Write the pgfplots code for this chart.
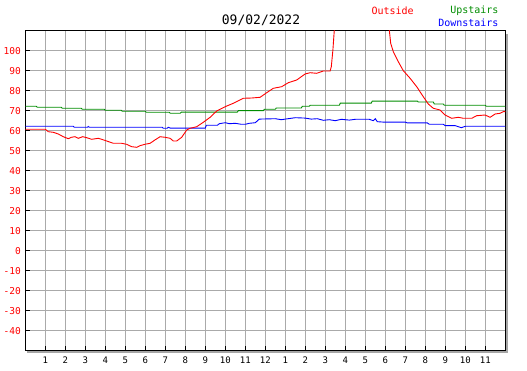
\documentclass[border=0pt]{standalone}
\usepackage{pgfplots}
\pgfplotsset{compat=1.18}
\usepackage{fontspec}
\setmainfont{DejaVu Sans Mono}
\definecolor{gridgray}{RGB}{170,170,170}
\definecolor{upgreen}{RGB}{0,140,0}
\begin{document}
\begin{tikzpicture}[x=1pt,y=1pt]
\path[use as bounding box] (0,0) rectangle (527,370);
% shadow
\draw[gray!70, line width=2pt] (27,18.0) -- (506.8,18.0) -- (506.8,336);
\begin{axis}[
  at={(25.3pt,19.3pt)}, anchor=south west,
  scale only axis, width=480pt, height=320pt,
  xmin=0, xmax=24, ymin=-50, ymax=110,
  xtick={1,...,23},
  xticklabels={1,2,3,4,5,6,7,8,9,10,11,12,1,2,3,4,5,6,7,8,9,10,11},
  ytick={-40,-30,-20,-10,0,10,20,30,40,50,60,70,80,90,100},
  yticklabels={-40,-30,-20,-10,0,10,20,30,40,50,60,70,80,90,100},
  grid=major,
  major grid style={gridgray, line width=0.9pt},
  tick align=inside, tick pos=left,
  major tick length=5pt,
  tick style={black, line width=0.9pt},
  axis line style={black, line width=1pt},
  xticklabel style={font=\fontsize{9}{10}\selectfont, yshift=-3pt},
  yticklabel style={font=\fontsize{9.5}{10}\selectfont, red, xshift=-1pt},
  clip=true,
]
\addplot[upgreen, line width=0.9pt] coordinates {
(0,72.2) (0.55,72.2) (0.6,71.7) (1.8,71.7) (1.85,71.2) (2.8,71.2) (2.85,70.7) (3.95,70.7) (4.0,70.2) (4.8,70.2) (4.85,69.7) (6.0,69.7) (6.05,69.2) (7.2,69.2) (7.25,68.7) (7.75,68.7) (7.8,69.3) (10.6,69.3) (10.65,70) (11.9,70) (11.95,70.7) (12.5,70.7) (12.55,71.35) (13.8,71.35) (13.85,72.2) (14.2,72.2) (14.25,72.7) (15.7,72.7) (15.75,73.8) (17.3,73.8) (17.35,74.8) (19.6,74.8) (19.65,74.35) (20.4,74.35) (20.45,73.35) (20.9,73.35) (20.95,72.7) (23,72.7) (23.05,72.2) (24,72.2)
};
\addplot[blue, line width=0.9pt] coordinates {
(0,62.2) (2.4,62.2) (2.45,61.7) (3.1,61.7) (3.15,62.1) (3.2,61.7) (6.85,61.7) (6.9,61.2) (7.1,61.2) (7.15,61.7) (7.25,61.3) (9.0,61.3) (9.05,62.7) (9.6,62.7) (9.7,63.5) (10,64.0) (10.2,63.5) (10.5,63.7) (10.8,63.2) (11.0,63.2) (11.2,63.7) (11.5,64.0) (11.7,65.8) (12.5,66) (12.8,65.5) (13.0,65.8) (13.5,66.5) (14.0,66.3) (14.3,65.8) (14.6,66.0) (14.9,65.2) (15.2,65.5) (15.5,65.0) (15.8,65.7) (16.2,65.3) (16.5,65.7) (17.2,65.7) (17.4,65.0) (17.5,66.0) (17.6,64.5) (17.9,64.3) (19.0,64.3) (19.1,63.9) (20.1,63.9) (20.2,63.2) (20.9,63.2) (21.0,62.5) (21.5,62.5) (21.8,61.5) (22.0,62.2) (24,62.2)
};
\addplot[red, line width=0.9pt] coordinates {
(0,60.7) (1.0,60.7) (1.15,59.5) (1.4,59.2) (1.65,58.35) (1.9,57.0) (2.15,56.0) (2.3,56.7) (2.48,57.0) (2.65,56.2) (2.87,57.0) (3.07,56.5) (3.32,55.7) (3.65,56.2) (3.82,55.7) (4.07,54.85) (4.4,53.7) (4.82,53.7) (5.07,53.2) (5.32,52.0) (5.57,51.7) (5.73,52.5) (5.98,53.2) (6.24,53.7) (6.48,55.35) (6.74,57.0) (6.99,56.7) (7.24,56.2) (7.4,54.85) (7.57,54.85) (7.82,56.7) (8.07,60.35) (8.24,61.2) (8.57,62.0) (8.9,64.2) (9.24,66.7) (9.57,69.85) (9.99,72.0) (10.4,73.7) (10.9,76.2) (11.32,76.35) (11.74,76.7) (12.07,79.0) (12.4,81.2) (12.82,82.0) (13.15,84.0) (13.57,85.35) (13.99,88.35) (14.24,89.0) (14.57,88.7) (14.9,89.85) (15.24,89.85) (15.3,92.0) (15.38,100.35) (15.45,110.35) (15.6,125) (16.5,140) (17.5,140) (18.1,118) (18.2,110.35) (18.27,103.7) (18.4,99.5) (18.65,94.5) (18.9,90.0) (19.24,86.2) (19.57,82.0) (19.9,77.0) (20.15,73.35) (20.4,71.2) (20.74,70.35) (20.99,67.85) (21.32,66.2) (21.65,66.7) (21.9,66.2) (22.32,66.2) (22.57,67.5) (22.99,67.85) (23.24,66.7) (23.49,68.35) (23.74,68.7) (23.9,69.5) (24,69.5)
};
\end{axis}
\node[font=\fontsize{13}{14}\selectfont] at (261,350) {09/02/2022};
\node[font=\fontsize{10}{11}\selectfont, red, anchor=west] at (368,359) {Outside};
\node[font=\fontsize{10}{11}\selectfont, upgreen, anchor=east] at (502,359) {Upstairs};
\node[font=\fontsize{10}{11}\selectfont, blue, anchor=east] at (502,347) {Downstairs};
\end{tikzpicture}
\end{document}
